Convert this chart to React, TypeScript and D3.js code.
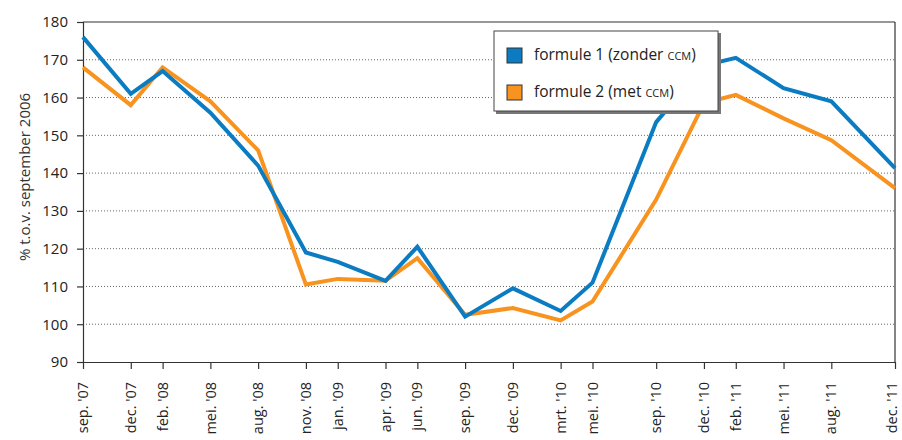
import React, { useEffect, useRef } from "react";
import * as d3 from "d3";

// month index counted from sep '07
const months = [0, 3, 5, 8, 11, 14, 16, 19, 21, 24, 27, 30, 32, 36, 39, 41, 44, 47, 51];
const tickLabels = [
  "sep. '07", "dec. '07", "feb. '08", "mei. '08", "aug. '08", "nov. '08", "jan. '09",
  "apr. '09", "jun. '09", "sep. '09", "dec. '09", "mrt. '10", "mei. '10", "sep. '10",
  "dec. '10", "feb. '11", "mei. '11", "aug. '11", "dec. '11",
];
const formule1 = [176, 161, 167, 156, 142, 119, 116.5, 111.5, 120.5, 102, 109.5, 103.5, 111, 153.5, 168.5, 170.5, 162.5, 159, 141.3];
const formule2 = [168, 158, 168, 159, 146, 110.5, 112, 111.5, 117.5, 102.5, 104.3, 101, 106, 133, 158.5, 160.7, 154.5, 148.7, 136];
const yTicks = [90, 100, 110, 120, 130, 140, 150, 160, 170, 180];
const seriesNames = ["formule 1 (zonder ", "formule 2 (met "];
const colors = ["#0b7cc1", "#f7931e"];

const App = () => {
  const ref = useRef<SVGSVGElement>(null);

  useEffect(() => {
    const svg = d3.select(ref.current);
    svg.selectAll("*").remove();
    const font = "'Open Sans', sans-serif";
    const left = 83, right = 895, top = 22, bottom = 362;

    const x = d3.scaleLinear().domain([0, 51]).range([left, right]);
    const y = d3.scaleLinear().domain([90, 180]).range([bottom, top]);

    // dotted grid
    svg.append("g")
      .selectAll("line")
      .data(yTicks.filter((t) => t > 90 && t < 180))
      .join("line")
      .attr("x1", left).attr("x2", right)
      .attr("y1", (d) => y(d)).attr("y2", (d) => y(d))
      .attr("stroke", "#666").attr("stroke-width", 1)
      .attr("stroke-dasharray", "1,2");

    // frame top + right
    svg.append("line").attr("x1", left).attr("x2", right).attr("y1", top).attr("y2", top)
      .attr("stroke", "#333").attr("stroke-width", 1.2);
    svg.append("line").attr("x1", right).attr("x2", right).attr("y1", top).attr("y2", bottom)
      .attr("stroke", "#333").attr("stroke-width", 1.2);

    // y axis
    const yAxis = svg.append("g").attr("transform", `translate(${left},0)`)
      .call(d3.axisLeft(y).tickValues(yTicks).tickSize(6).tickPadding(9));
    yAxis.select(".domain").attr("stroke", "#333").attr("stroke-width", 1.2);
    yAxis.selectAll(".tick line").attr("stroke", "#333").attr("stroke-width", 1.2);
    yAxis.selectAll("text").attr("font-family", font).attr("font-size", 15).attr("fill", "#222");

    // x axis
    const xAxis = svg.append("g").attr("transform", `translate(0,${bottom})`)
      .call(d3.axisBottom(x).tickValues(months).tickSize(7).tickSizeOuter(0)
        .tickFormat((d, i) => tickLabels[i]));
    xAxis.select(".domain").attr("stroke", "#333").attr("stroke-width", 1.2);
    xAxis.selectAll(".tick line").attr("stroke", "#333").attr("stroke-width", 1.2);
    xAxis.selectAll("text")
      .attr("font-family", font).attr("font-size", 14.5).attr("fill", "#222")
      .attr("text-anchor", "end")
      .attr("transform", "rotate(-90)")
      .attr("x", -20).attr("y", 0)
      .attr("dy", (d, i) => (i === months.length - 1 ? "0.1em" : "0.32em"));

    // y label
    svg.append("text")
      .attr("transform", `translate(30,177) rotate(-90)`)
      .attr("text-anchor", "middle")
      .attr("font-family", font).attr("font-size", 15).attr("fill", "#333")
      .text("% t.o.v. september 2006");

    // lines
    const line = d3.line<number>().x((d, i) => x(months[i])).y((d) => y(d));
    [formule2, formule1].forEach((s, k) => {
      svg.append("path").datum(s)
        .attr("d", line)
        .attr("fill", "none")
        .attr("stroke", colors[1 - k])
        .attr("stroke-width", 4)
        .attr("stroke-linejoin", "miter");
    });

    // legend
    const lg = svg.append("g");
    lg.append("rect").attr("x", 496).attr("y", 33).attr("width", 225).attr("height", 81).attr("fill", "#777");
    lg.append("rect").attr("x", 494).attr("y", 31).attr("width", 224).attr("height", 80)
      .attr("fill", "#fff").attr("stroke", "#444").attr("stroke-width", 1);
    seriesNames.forEach((n, i) => {
      const yy = 48 + i * 37;
      lg.append("rect").attr("x", 507).attr("y", yy).attr("width", 15).attr("height", 15)
        .attr("fill", colors[i]).attr("stroke", "#333").attr("stroke-width", 1);
      const t = lg.append("text").attr("x", 534).attr("y", yy + 12)
        .attr("font-family", font).attr("font-size", 15.5).attr("fill", "#222");
      t.append("tspan").text(n);
      t.append("tspan").attr("font-variant", "small-caps").text("ccm");
      t.append("tspan").text(")");
    });
  }, []);

  return (
    <svg
      ref={ref}
      width={902}
      height={440}
      style={{ position: "absolute", left: 0, top: 0, display: "block" }}
    />
  );
};

export default App;
